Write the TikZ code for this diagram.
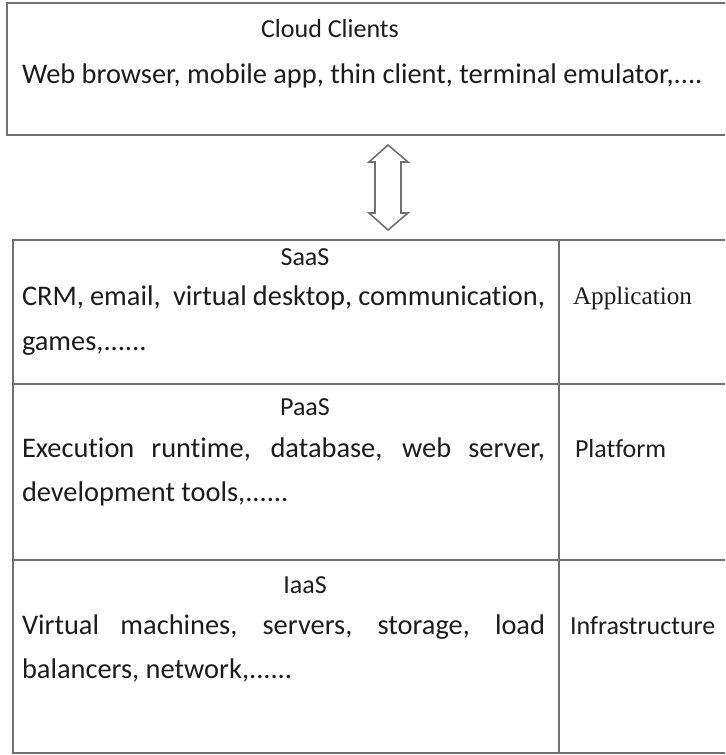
\documentclass[tikz,border=0pt]{standalone}
\usepackage{fontspec}
\setmainfont{Carlito}[Ligatures=NoCommon]
\newfontfamily\timesfont{Liberation Serif}
\usepackage{tikz}
\definecolor{rule}{RGB}{112,112,112}
\definecolor{ink}{RGB}{28,28,28}
\tikzstyle{Frame}=[draw=rule, line width=1.2pt]

\begin{document}
\begin{tikzpicture}[
  x=0.5pt, y=-0.5pt,
  Txt/.style={anchor=base, inner sep=0, outer sep=0, text=ink, font=\fontsize{13}{15}\selectfont},
  Body/.style={Txt, anchor=base west, font=\fontsize{14.2}{17}\selectfont},
  Side/.style={Txt, anchor=base west, font=\fontsize{13}{15}\selectfont},
  Serif/.style={Side, font=\timesfont\fontsize{12.6}{15}\selectfont}
]
\clip (0,0) rectangle (725,755);
\fill[white] (0,0) rectangle (725,755);

\draw[Frame] (7,3) rectangle (760,135);
\node[Txt] (clients) at (330,37) {Cloud Clients};
\node[Body] (devices) at (22,83) {Web browser, mobile app, thin client, terminal emulator,....};

\coordinate (up) at (388,145);
\coordinate (down) at (388,230);
\draw[draw=rule, line width=0.8pt, fill=white, line join=miter]
  (up) -- ++(20,17) -- ++(-7,0) -- ++(0,51) -- ++(7,0) -- (down)
  -- ++(-19,-17) -- ++(6,0) -- ++(0,-51) -- ++(-6,0) -- cycle;

\draw[Frame] (13,240) rectangle (760,753);
\draw[Frame] (559,240) -- (559,753);
\draw[Frame] (13,384) -- (760,384);
\draw[Frame] (13,560) -- (760,560);

\node[Txt] (saas) at (305,265) {SaaS};
\node[Body] (saas1) at (22,305) {\makebox[261.5pt][s]{CRM, email,\ \ virtual desktop, communication,}};
\node[Body] (saas2) at (22,350) {games,......};
\node[Serif] (app) at (573,304) {Application};

\node[Txt] (paas) at (305,415) {PaaS};
\node[Body] (paas1) at (22,457) {\makebox[261.5pt][s]{Execution runtime, database, web server,}};
\node[Body] (paas2) at (22,501) {development tools,......};
\node[Side] (plat) at (575,457) {Platform};

\node[Txt] (iaas) at (305,593) {IaaS};
\node[Body] (iaas1) at (22,634) {\makebox[261.5pt][s]{Virtual machines, servers, storage, load}};
\node[Body] (iaas2) at (22,678) {balancers, network,......};
\node[Side] (infra) at (570,634) {Infrastructure};

\end{tikzpicture}
\end{document}
